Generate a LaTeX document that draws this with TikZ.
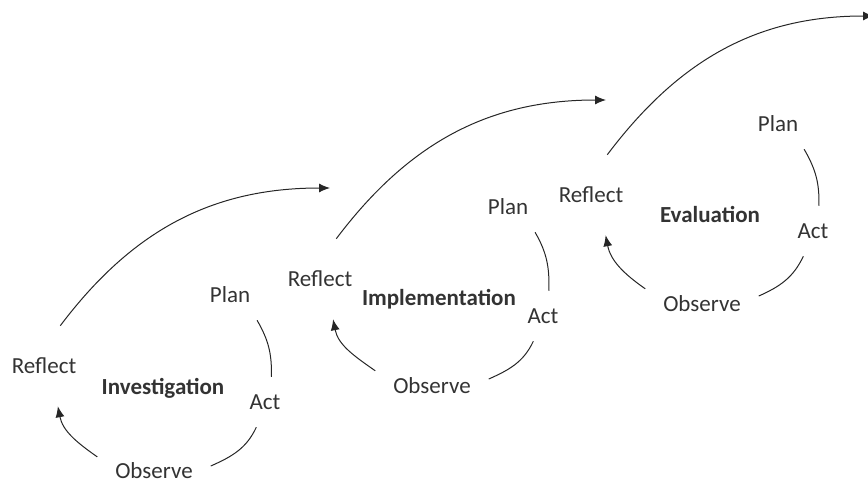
\documentclass[tikz,border=0pt]{standalone}
\usepackage{fontspec}
\setmainfont{Carlito}
\usetikzlibrary{arrows.meta}
\tikzset{>={Latex[length=11pt,width=9pt]},
  lbl/.style={font=\fontsize{23}{27}\selectfont, text=black!80, inner sep=0pt,
    outer sep=18pt, text height=14.5pt, text depth=0pt},
  rfl/.style={lbl, outer sep=33pt},
  stage/.style={lbl, font=\fontsize{23}{27}\selectfont\bfseries},
  cyc/.style={line width=1pt, black!85}
}

\begin{document}
\begin{tikzpicture}[x=1pt,y=1pt]
  \useasboundingbox (0,0) rectangle (868,-484);
  % Investigation
  \node[rfl] (reflect1) at (44,-366) {Reflect};
  \node[stage] (inv) at (163,-387) {Investigation};
  \node[lbl] (plan1) at (230,-295) {Plan};
  \node[lbl] (act1) at (265,-402) {Act};
  \node[lbl] (observe1) at (154,-471) {Observe};
  \coordinate (tip1) at (330,-188);
  \draw[cyc] (plan1.-43) to[out=-60,in=88] (act1.76);
  \draw[cyc] (act1.-109) to[out=-115,in=24] (observe1.5);
  \draw[cyc,->] (observe1.166) to[out=145,in=-79] (reflect1.-71);
  \draw[cyc,->] (reflect1.68) to[out=53,in=180] (tip1);
  % Implementation
  \node[rfl] (reflect2) at (320,-279) {Reflect};
  \node[stage] (impl) at (439,-298) {Implementation};
  \node[lbl] (plan2) at (508,-207) {Plan};
  \node[lbl] (act2) at (543,-316) {Act};
  \node[lbl] (observe2) at (432,-386) {Observe};
  \coordinate (tip2) at (606,-100);
  \draw[cyc] (plan2.-43) to[out=-60,in=88] (act2.77);
  \draw[cyc] (act2.-111) to[out=-115,in=24] (observe2.7);
  \draw[cyc,->] (observe2.165) to[out=145,in=-79] (reflect2.-72);
  \draw[cyc,->] (reflect2.68) to[out=53,in=180] (tip2);
  % Evaluation
  \node[rfl] (reflect3) at (591,-195) {Reflect};
  \node[stage] (eval) at (710,-215) {Evaluation};
  \node[lbl] (plan3) at (778,-124) {Plan};
  \node[lbl] (act3) at (813,-231) {Act};
  \node[lbl] (observe3) at (702,-304) {Observe};
  \coordinate (tip3) at (874,-16);
  \draw[cyc] (plan3.-44) to[out=-60,in=88] (act3.77);
  \draw[cyc] (act3.-111) to[out=-115,in=24] (observe3.8);
  \draw[cyc,->] (observe3.165) to[out=145,in=-79] (reflect3.-70);
  \draw[cyc,->] (reflect3.68) to[out=53,in=180] (tip3);
\end{tikzpicture}
\end{document}
